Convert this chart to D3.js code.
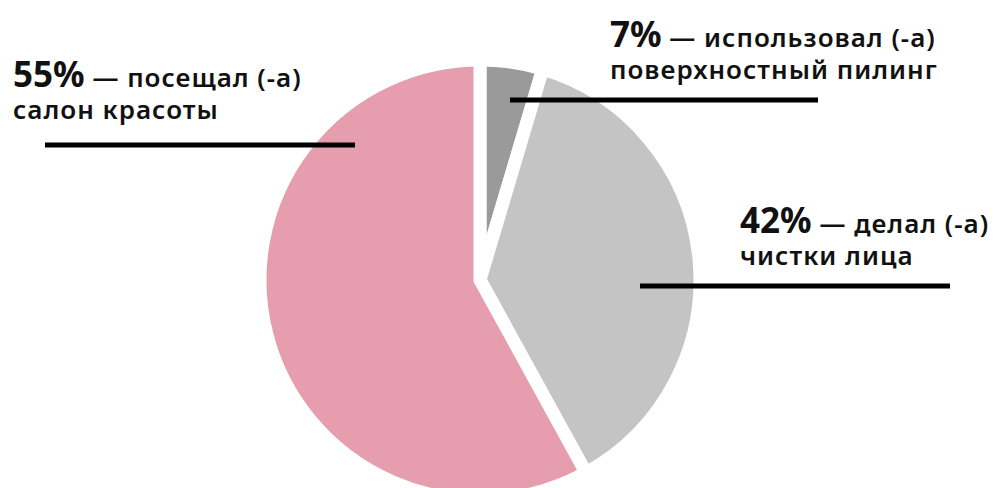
<!DOCTYPE html>
<html>
<head>
<meta charset="utf-8">
<script src="https://cdn.jsdelivr.net/npm/d3@7"></script>
<style>
  body { margin: 0; background: #fff; }
  text { font-family: "Noto Sans", "Open Sans", sans-serif; fill: #111; }
</style>
</head>
<body>
<script>
// slices go clockwise from 12 o'clock
var percents = ["7%", "42%", "55%"];
var captionTop = ["использовал (-а)", "делал (-а)", "посещал (-а)"];
var captionBottom = ["поверхностный пилинг", "чистки лица", "салон красоты"];
// slice sizes as they are drawn in the picture (the printed numbers sum to 104)
var shares = [4.6, 37.4, 58];
var colors = ["#9a9a9a", "#c4c4c4", "#e69dae"];

(function(){
    var width = 998,
       height = 488;

    var svg = d3.select("body").append("svg")
                .attr("width", width)
                .attr("height", height);

    var cx = 480, cy = 280, radius = 220;

    var pie = d3.pie().sort(null).value(function(d){ return d; });
    var arc = d3.arc().innerRadius(0).outerRadius(radius);

    var g = svg.append("g")
               .attr("transform", "translate(" + cx + "," + cy + ")");

    g.selectAll("path")
     .data(pie(shares))
     .enter().append("path")
     .attr("d", arc)
     .attr("fill", function(d, i){ return colors[i]; })
     .attr("stroke", "#fff")
     .attr("stroke-width", 13)
     .attr("stroke-linejoin", "miter");

    // where each caption sits (same order as the data)
    var spots = [
        {x: 610, y: 47,  line: [510, 818, 100]},
        {x: 740, y: 233, line: [640, 950, 286]},
        {x: 13,  y: 87,  line: [45, 355, 145]}
    ];

    var labels = svg.selectAll("g.label")
                    .data(percents)
                    .enter().append("g")
                    .attr("class", "label");

    labels.append("line")
          .attr("x1", function(d, i){ return spots[i].line[0]; })
          .attr("x2", function(d, i){ return spots[i].line[1]; })
          .attr("y1", function(d, i){ return spots[i].line[2]; })
          .attr("y2", function(d, i){ return spots[i].line[2]; })
          .attr("stroke", "#000")
          .attr("stroke-width", 5);

    var first = labels.append("text")
                      .attr("x", function(d, i){ return spots[i].x; })
                      .attr("y", function(d, i){ return spots[i].y; });

    first.append("tspan")
         .attr("font-size", 35)
         .attr("font-weight", 700)
         .text(function(d){ return d; });

    first.append("tspan")
         .attr("font-size", 26)
         .attr("font-weight", 600)
         .attr("letter-spacing", 1)
         .text(function(d, i){ return " — " + captionTop[i]; });

    labels.append("text")
          .attr("x", function(d, i){ return spots[i].x; })
          .attr("y", function(d, i){ return spots[i].y + 32; })
          .attr("font-size", 26)
          .attr("font-weight", 600)
          .attr("letter-spacing", 1)
          .text(function(d, i){ return captionBottom[i]; });
})();
</script>
</body>
</html>
